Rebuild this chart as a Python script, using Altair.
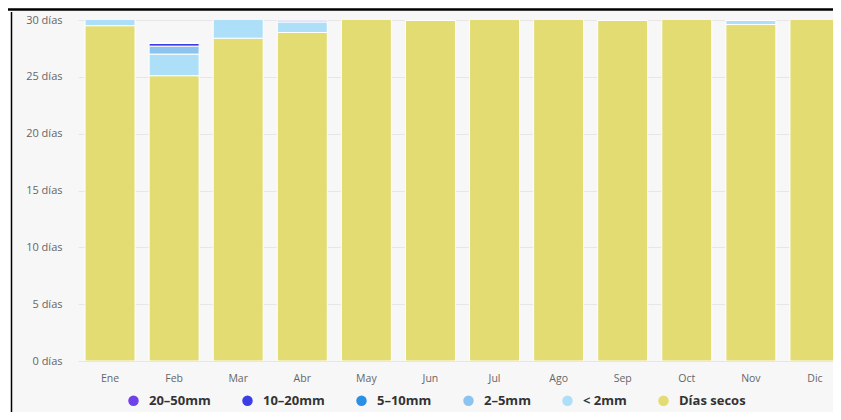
import altair as alt
import pandas as pd

months = ["Ene", "Feb", "Mar", "Abr", "May", "Jun", "Jul", "Ago", "Sep", "Oct", "Nov", "Dic"]
categories = ["20–50mm", "10–20mm", "5–10mm", "2–5mm", "< 2mm", "Días secos"]
colors = ["#7040e8", "#3a3ee6", "#2b8fe6", "#8cc4f0", "#ade0f8", "#e2dc72"]

dry = [29.5, 25.1, 28.4, 28.9, 31, 30, 31, 31, 30, 31, 29.6, 31]
lt2 = [1.5, 1.9, 2.6, 0.95, 0, 0, 0, 0, 0, 0, 0.4, 0]
r2_5 = [0, 0.7, 0, 0, 0, 0, 0, 0, 0, 0, 0, 0]
r5_10 = [0, 0, 0, 0, 0, 0, 0, 0, 0, 0, 0, 0]
r10_20 = [0, 0.25, 0, 0.15, 0, 0, 0, 0, 0, 0, 0, 0]
r20_50 = [0, 0, 0, 0, 0, 0, 0, 0, 0, 0, 0, 0]

series = {
    "Días secos": dry,
    "< 2mm": lt2,
    "2–5mm": r2_5,
    "5–10mm": r5_10,
    "10–20mm": r10_20,
    "20–50mm": r20_50,
}
stack_order = ["Días secos", "< 2mm", "2–5mm", "5–10mm", "10–20mm", "20–50mm"]

rows = []
for cat, vals in series.items():
    for m, v in zip(months, vals):
        rows.append({"mes": m, "cat": cat, "dias": v, "ord": stack_order.index(cat)})
df = pd.DataFrame(rows)

FONT = "Open Sans"

bars = alt.Chart(df).mark_bar(stroke="white", strokeWidth=1, clip=True).encode(
    x=alt.X("mes:N", sort=months, title=None,
            scale=alt.Scale(range=[0, 769], paddingInner=0.22, paddingOuter=0.11),
            axis=alt.Axis(labelAngle=0, ticks=False, domain=False, labelPadding=12,
                          labelColor="#666666", labelFontSize=10.5, labelFont=FONT)),
    y=alt.Y("dias:Q", stack="zero", title=None,
            scale=alt.Scale(domain=[0, 30], nice=False),
            axis=alt.Axis(values=[0, 5, 10, 15, 20, 25, 30], labelExpr="datum.value + ' días'",
                          ticks=False, domain=False, labelPadding=16, gridColor="#e6e6e6",
                          labelColor="#666666", labelFontSize=11, labelFont=FONT)),
    color=alt.Color("cat:N", sort=categories,
                    scale=alt.Scale(domain=categories, range=colors),
                    legend=alt.Legend(title=None, orient="none", direction="horizontal",
                                      legendX=49, legendY=374, symbolType="circle",
                                      symbolSize=110, symbolStrokeWidth=0,
                                      labelFontSize=13, labelFontWeight="bold",
                                      labelColor="#333333", labelFont=FONT,
                                      columnPadding=30, labelOffset=9)),
    order=alt.Order("ord:Q", sort="ascending"),
)

frame_data = alt.Data(values=[{"a": 1}])
top_line = alt.Chart(frame_data).mark_rule(color="black", strokeWidth=2.5, clip=False).encode(
    x=alt.value(-70), x2=alt.value(760), y=alt.value(-10.5)
)
left_line = alt.Chart(frame_data).mark_rule(color="black", strokeWidth=1.5, clip=False).encode(
    x=alt.value(-66.5), y=alt.value(-8), y2=alt.value(400)
)
left_white = alt.Chart(frame_data).mark_rect(color="white", clip=False).encode(
    x=alt.value(-70), x2=alt.value(-67), y=alt.value(-9), y2=alt.value(400)
)

chart = alt.layer(bars, left_white, top_line, left_line).properties(
    width=755, height=341,
    autosize=alt.AutoSizeParams(type="none"),
    padding={"left": 70, "top": 12, "right": 0, "bottom": 51},
    background="#f7f7f8",
).configure_view(stroke=None)

chart.save("out.html", embed_options={"renderer": "svg", "actions": False})
